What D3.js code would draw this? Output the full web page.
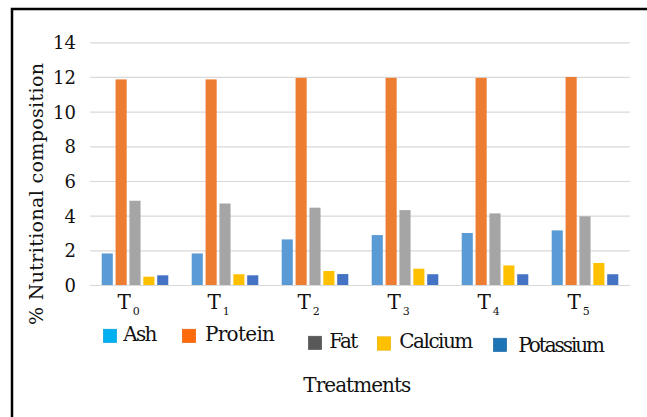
<!DOCTYPE html>
<html>
<head>
<meta charset="utf-8">
<script src="https://cdn.jsdelivr.net/npm/d3@7"></script>
<style>
  html, body { margin: 0; padding: 0; background: #fff; }
  svg { display: block; }
  svg text { font-family: "DejaVu Serif", "Liberation Serif", serif; fill: #111; }
</style>
</head>
<body>
<svg id="chart" width="647" height="417"></svg>
<script>
// Treatments and nutrient series
const treatments = ["0", "1", "2", "3", "4", "5"];
const nutrients = ["Ash", "Protein", "Fat", "Calcium", "Potassium"];

const ash       = [1.82, 1.82, 2.63, 2.88, 3.00, 3.15];
const protein   = [11.86, 11.86, 11.95, 11.95, 11.95, 12.00];
const fat       = [4.86, 4.70, 4.46, 4.32, 4.13, 3.96];
const calcium   = [0.48, 0.62, 0.81, 0.94, 1.13, 1.27];
const potassium = [0.56, 0.56, 0.63, 0.62, 0.62, 0.62];

const yTicks = [0, 2, 4, 6, 8, 10, 12, 14];

const barColors    = ["#5B9BD5", "#ED7D31", "#A5A5A5", "#FFC000", "#4472C4"];
const legendColors = ["#00B0F0", "#FF6A0A", "#595959", "#FFC000", "#1F74B6"];

const seriesValues = [ash, protein, fat, calcium, potassium];

const FONT = '"DejaVu Serif", "Liberation Serif", serif';

const svg = d3.select("#chart");

// Frame around the figure
svg.append("rect")
  .attr("x", 12).attr("y", 9)
  .attr("width", 700).attr("height", 500)
  .attr("fill", "none").attr("stroke", "#000").attr("stroke-width", 2.5);

// Scales
const x0 = d3.scaleBand().domain(treatments).range([90, 630])
  .paddingInner(0.26).paddingOuter(0.13);
const x1 = d3.scaleBand().domain(nutrients).range([0, x0.bandwidth()])
  .paddingInner(0.2).paddingOuter(0);
const y = d3.scaleLinear().domain([0, 14]).range([285, 42.3]);

// Gridlines and value labels
const yAxis = d3.axisLeft(y).tickValues(yTicks).tickSize(-540).tickFormat(d3.format("d")).tickPadding(14);
const gy = svg.append("g").attr("transform", "translate(90,0)").call(yAxis);
gy.attr("font-family", FONT);
gy.select(".domain").remove();
gy.selectAll(".tick line").attr("stroke", "#d9d9d9").attr("stroke-width", 1.2);
gy.selectAll(".tick text")
  .attr("font-size", 18).attr("fill", "#111")
  .style("font-family", FONT)
  .attr("dy", "0.36em");

// Bars
const groups = svg.append("g").selectAll("g")
  .data(treatments)
  .join("g")
  .attr("transform", d => `translate(${x0(d)},0)`);

groups.selectAll("rect")
  .data((t, ti) => nutrients.map((n, ni) => ({ n, ni, v: seriesValues[ni][ti] })))
  .join("rect")
  .attr("x", d => x1(d.n))
  .attr("width", x1.bandwidth())
  .attr("y", d => y(d.v))
  .attr("height", d => y(0) - y(d.v))
  .attr("fill", d => barColors[d.ni]);

// Category labels T with subscripts
const xl = svg.append("g").style("font-family", FONT);
treatments.forEach(t => {
  const cx = x0(t) + x0.bandwidth() / 2;
  const lbl = xl.append("text")
    .attr("x", cx - 17.5).attr("y", 308.5)
    .attr("font-size", 20);
  lbl.append("tspan").text("T");
  lbl.append("tspan").attr("dx", 2).attr("dy", 6).attr("font-size", 11).text(t);
});

// Legend (staggered entries)
const legendPos = [
  { sx: 103.3, sy: 329.2, tx: 123.3, ty: 340.7, w: 34 },
  { sx: 182.3, sy: 329.2, tx: 205,   ty: 340.5, w: 70 },
  { sx: 308.3, sy: 336.2, tx: 329.3, ty: 347.5, w: 29 },
  { sx: 377.3, sy: 336.8, tx: 399.3, ty: 348.3, w: 74 },
  { sx: 493.3, sy: 338.2, tx: 518.3, ty: 351.7, w: 86.7 }
];
const leg = svg.append("g").style("font-family", FONT);
nutrients.forEach((n, i) => {
  const p = legendPos[i];
  leg.append("rect")
    .attr("x", p.sx).attr("y", p.sy).attr("width", 13.4).attr("height", 13.4)
    .attr("fill", legendColors[i])
    .attr("stroke", d3.color(legendColors[i]).darker(0.3)).attr("stroke-width", 0.6);
  leg.append("text")
    .attr("x", p.tx).attr("y", p.ty)
    .attr("font-size", 20)
    .attr("textLength", p.w).attr("lengthAdjust", "spacing")
    .text(n);
});

// Axis titles
svg.append("text")
  .style("font-family", FONT)
  .attr("x", 303.3).attr("y", 392.3)
  .attr("font-size", 20)
  .attr("textLength", 108).attr("lengthAdjust", "spacing")
  .text("Treatments");

svg.append("text")
  .style("font-family", FONT)
  .attr("transform", "translate(42.5,325) rotate(-90)")
  .attr("x", 0).attr("y", 0)
  .attr("font-size", 19)
  .attr("textLength", 262).attr("lengthAdjust", "spacing")
  .text("% Nutritional composition");
</script>
</body>
</html>
